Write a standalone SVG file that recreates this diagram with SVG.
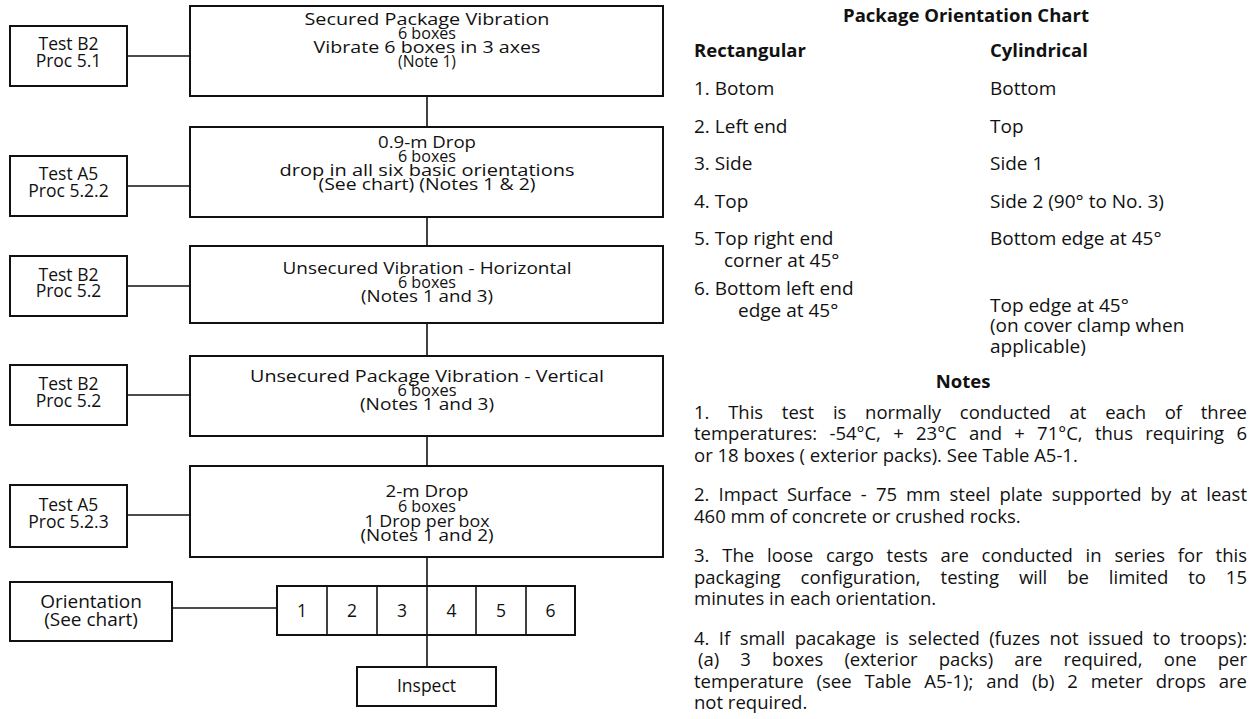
<svg xmlns="http://www.w3.org/2000/svg" width="1254" height="719" viewBox="0 0 1254 719">
<style>
  .box { fill: #fff; stroke: #111; stroke-width: 2; }
  .ln { stroke: #111; stroke-width: 1.6; fill: none; }
  text { font-family: "Open Sans", "Liberation Sans", Arial, sans-serif; fill: #111; }
  .mt { font-size: 16.5px; text-anchor: middle; }
  .lt { font-size: 17.5px; text-anchor: middle; }
  .ch { font-size: 19px; }
  .hd { font-size: 18.5px; font-weight: bold; }
  .nt { font-size: 18.5px; }
</style>
<rect width="1254" height="719" fill="#fff"/>

<g id="connectors">
  <line class="ln" x1="427" y1="96" x2="427" y2="667"/>
  <line class="ln" x1="127" y1="56" x2="190" y2="56"/>
  <line class="ln" x1="127" y1="186" x2="190" y2="186"/>
  <line class="ln" x1="127" y1="286" x2="190" y2="286"/>
  <line class="ln" x1="127" y1="395" x2="190" y2="395"/>
  <line class="ln" x1="127" y1="515" x2="190" y2="515"/>
  <line class="ln" x1="172" y1="608" x2="277" y2="608"/>
</g>

<g id="secured-vibration">
  <rect class="box" x="190" y="6" width="473" height="90"/>
  <text class="mt" x="427" y="24.5" textLength="245" lengthAdjust="spacingAndGlyphs">Secured Package Vibration</text>
  <text class="mt" x="427" y="38.5" textLength="58" lengthAdjust="spacingAndGlyphs">6 boxes</text>
  <text class="mt" x="427" y="52.5" textLength="227" lengthAdjust="spacingAndGlyphs">Vibrate 6 boxes in 3 axes</text>
  <text class="mt" x="427" y="66.5" textLength="58" lengthAdjust="spacingAndGlyphs">(Note 1)</text>
</g>
<g id="drop-09">
  <rect class="box" x="190" y="127" width="473" height="90"/>
  <text class="mt" x="427" y="148" textLength="98" lengthAdjust="spacingAndGlyphs">0.9-m Drop</text>
  <text class="mt" x="427" y="162" textLength="58" lengthAdjust="spacingAndGlyphs">6 boxes</text>
  <text class="mt" x="427" y="176" textLength="295" lengthAdjust="spacingAndGlyphs">drop in all six basic orientations</text>
  <text class="mt" x="427" y="190" textLength="217" lengthAdjust="spacingAndGlyphs">(See chart) (Notes 1 &amp; 2)</text>
</g>
<g id="unsecured-horizontal">
  <rect class="box" x="190" y="246" width="473" height="77"/>
  <text class="mt" x="427" y="274" textLength="289" lengthAdjust="spacingAndGlyphs">Unsecured Vibration - Horizontal</text>
  <text class="mt" x="427" y="288" textLength="58" lengthAdjust="spacingAndGlyphs">6 boxes</text>
  <text class="mt" x="427" y="302" textLength="132" lengthAdjust="spacingAndGlyphs">(Notes 1 and 3)</text>
</g>
<g id="unsecured-vertical">
  <rect class="box" x="190" y="356" width="473" height="80"/>
  <text class="mt" x="427" y="382" textLength="354" lengthAdjust="spacingAndGlyphs">Unsecured Package Vibration - Vertical</text>
  <text class="mt" x="427" y="396" textLength="59" lengthAdjust="spacingAndGlyphs">6 boxes</text>
  <text class="mt" x="427" y="410" textLength="134" lengthAdjust="spacingAndGlyphs">(Notes 1 and 3)</text>
</g>
<g id="drop-2m">
  <rect class="box" x="190" y="466" width="473" height="91"/>
  <text class="mt" x="427" y="497" textLength="83" lengthAdjust="spacingAndGlyphs">2-m Drop</text>
  <text class="mt" x="427" y="512" textLength="58" lengthAdjust="spacingAndGlyphs">6 boxes</text>
  <text class="mt" x="427" y="527" textLength="125" lengthAdjust="spacingAndGlyphs">1 Drop per box</text>
  <text class="mt" x="427" y="541" textLength="133" lengthAdjust="spacingAndGlyphs">(Notes 1 and 2)</text>
</g>

<g id="test-b2-51">
  <rect class="box" x="10" y="26" width="117" height="60"/>
  <text class="lt" x="68.5" y="50">Test B2</text>
  <text class="lt" x="68.5" y="67">Proc 5.1</text>
</g>
<g id="test-a5-522">
  <rect class="box" x="10" y="156" width="117" height="60"/>
  <text class="lt" x="68.5" y="180">Test A5</text>
  <text class="lt" x="68.5" y="197">Proc 5.2.2</text>
</g>
<g id="test-b2-52a">
  <rect class="box" x="10" y="256" width="117" height="60"/>
  <text class="lt" x="68.5" y="281">Test B2</text>
  <text class="lt" x="68.5" y="297">Proc 5.2</text>
</g>
<g id="test-b2-52b">
  <rect class="box" x="10" y="365" width="117" height="60"/>
  <text class="lt" x="68.5" y="390">Test B2</text>
  <text class="lt" x="68.5" y="407">Proc 5.2</text>
</g>
<g id="test-a5-523">
  <rect class="box" x="10" y="485" width="117" height="62"/>
  <text class="lt" x="68.5" y="511">Test A5</text>
  <text class="lt" x="68.5" y="528">Proc 5.2.3</text>
</g>
<g id="orientation">
  <rect class="box" x="10" y="582" width="162" height="59"/>
  <text class="lt" x="91" y="608" style="font-size:19px">Orientation</text>
  <text class="lt" x="91" y="626" style="font-size:19px">(See chart)</text>
</g>
<g id="orientation-grid">
  <rect class="box" x="277" y="586" width="298" height="49"/>
  <line class="ln" x1="327" y1="586" x2="327" y2="635"/>
  <line class="ln" x1="377" y1="586" x2="377" y2="635"/>
  <line class="ln" x1="427" y1="586" x2="427" y2="635"/>
  <line class="ln" x1="476" y1="586" x2="476" y2="635"/>
  <line class="ln" x1="526" y1="586" x2="526" y2="635"/>
  <text class="lt" x="302" y="617">1</text>
  <text class="lt" x="352" y="617">2</text>
  <text class="lt" x="402" y="617">3</text>
  <text class="lt" x="451.5" y="617">4</text>
  <text class="lt" x="501" y="617">5</text>
  <text class="lt" x="550.5" y="617">6</text>
</g>
<g id="inspect">
  <rect class="box" x="357" y="667" width="139" height="39"/>
  <text class="lt" x="426.5" y="692">Inspect</text>
</g>

<g id="orientation-chart">
  <text class="hd" x="966" y="22" text-anchor="middle">Package Orientation Chart</text>
  <text class="hd" x="694" y="57">Rectangular</text>
  <text class="hd" x="990" y="57">Cylindrical</text>
  <text class="ch" x="694" y="95">1. Botom</text>
  <text class="ch" x="990" y="95">Bottom</text>
  <text class="ch" x="694" y="133">2. Left end</text>
  <text class="ch" x="990" y="133">Top</text>
  <text class="ch" x="694" y="170">3. Side</text>
  <text class="ch" x="990" y="170">Side 1</text>
  <text class="ch" x="694" y="208">4. Top</text>
  <text class="ch" x="990" y="208">Side 2 (90° to No. 3)</text>
  <text class="ch" x="694" y="245">5. Top right end</text>
  <text class="ch" x="724" y="267">corner at 45°</text>
  <text class="ch" x="990" y="245">Bottom edge at 45°</text>
  <text class="ch" x="694" y="295">6. Bottom left end</text>
  <text class="ch" x="738" y="317">edge at 45°</text>
  <text class="ch" x="990" y="312">Top edge at 45°</text>
  <text class="ch" x="990" y="332">(on cover clamp when</text>
  <text class="ch" x="990" y="353">applicable)</text>
</g>

<g id="notes">
  <text class="hd" x="963" y="388" text-anchor="middle">Notes</text>
  <text class="nt" x="694" y="419" word-spacing="13.9" textLength="553" lengthAdjust="spacing">1. This test is normally conducted at each of three</text>
  <text class="nt" x="694" y="440.4" word-spacing="7.5" textLength="553" lengthAdjust="spacing">temperatures: -54°C, + 23°C and + 71°C, thus requiring 6</text>
  <text class="nt" x="694" y="461.8">or 18 boxes ( exterior packs). See Table A5-1.</text>
  <text class="nt" x="694" y="501.4" word-spacing="4.3" textLength="553" lengthAdjust="spacing">2. Impact Surface - 75 mm steel plate supported by at least</text>
  <text class="nt" x="694" y="522.8">460 mm of concrete or crushed rocks.</text>
  <text class="nt" x="694" y="562.4" word-spacing="8" textLength="553" lengthAdjust="spacing">3. The loose cargo tests are conducted in series for this</text>
  <text class="nt" x="694" y="583.8" word-spacing="15.1" textLength="553" lengthAdjust="spacing">packaging configuration, testing will be limited to 15</text>
  <text class="nt" x="694" y="605.2">minutes in each orientation.</text>
  <text class="nt" x="694" y="644.8" word-spacing="4.6" textLength="553" lengthAdjust="spacing">4. If small pacakage is selected (fuzes not issued to troops):</text>
  <text class="nt" x="698" y="666.2" word-spacing="16.4" textLength="549" lengthAdjust="spacing">(a) 3 boxes (exterior packs) are required, one per</text>
  <text class="nt" x="694" y="687.6" word-spacing="8.1" textLength="553" lengthAdjust="spacing">temperature (see Table A5-1); and (b) 2 meter drops are</text>
  <text class="nt" x="694" y="709">not required.</text>
</g>
</svg>
